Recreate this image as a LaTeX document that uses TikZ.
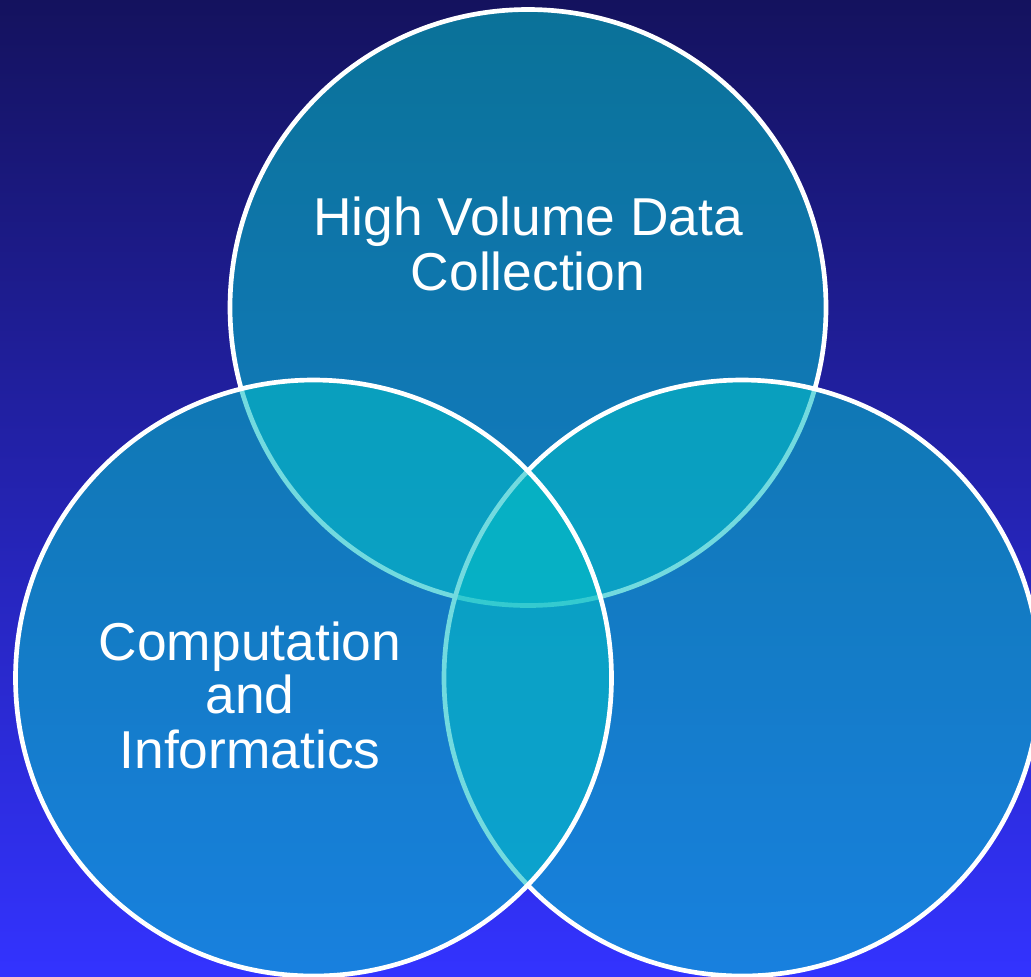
\documentclass[tikz,border=0pt]{standalone}
\usepackage{fontspec}
\setmainfont{Liberation Sans}
\definecolor{bgtop}{RGB}{20,18,94}
\definecolor{bgbot}{RGB}{51,51,255}
\definecolor{vennfill}{RGB}{4,190,198}
\begin{document}
\begin{tikzpicture}[x=0.75pt,y=-0.75pt,
  venn/.style={circle, minimum size=447pt, inner sep=0pt, outer sep=0pt,
    draw=white, line width=3.5pt, fill=vennfill, fill opacity=0.56, draw opacity=1},
  lbl/.style={text=white, font=\fontsize{40}{43}\selectfont, anchor=base, inner sep=0pt}]
\useasboundingbox (0,0) rectangle (1031,976);
\shade[top color=bgtop, bottom color=bgbot] (0,0) rectangle (1031,976);
\clip (0,0) rectangle (1031,976);
\node[venn] (topc) at (528,307.5) {};
\node[venn] (rightc) at (742,678) {};
\node[venn] (leftc) at (313.5,678) {};
\node[lbl] (t1) at (528,235) {High Volume Data};
\node[lbl] (t2) at (528,290) {Collection};
\node[lbl] (l1) at (250,660) {Computation};
\node[lbl] (l2) at (250,713) {and};
\node[lbl] (l3) at (250,768) {Informatics};
\end{tikzpicture}
\end{document}
